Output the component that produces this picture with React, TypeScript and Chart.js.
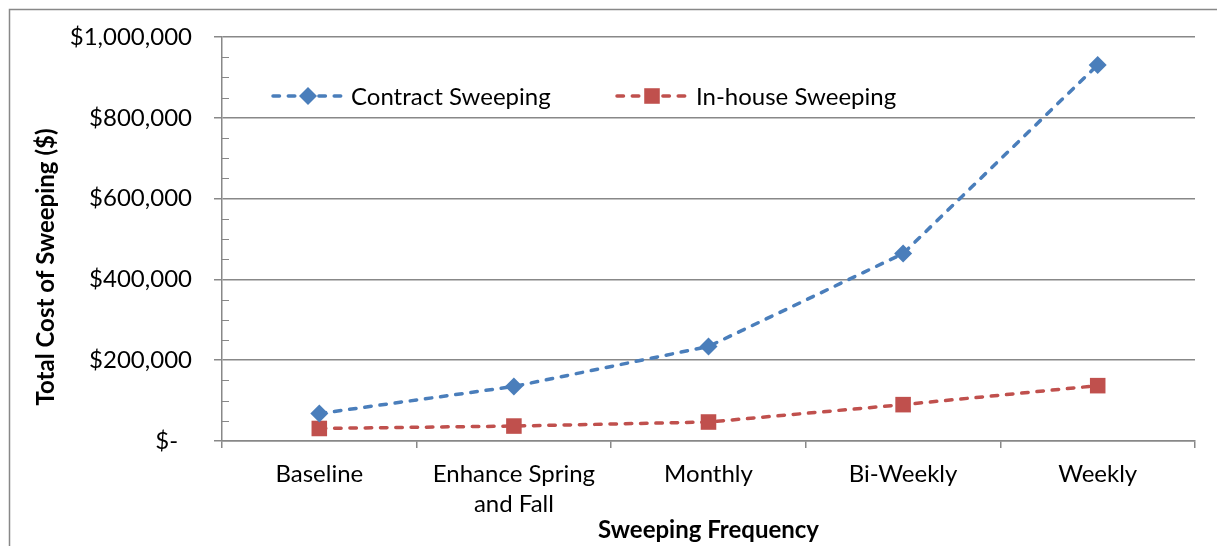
import React, { useEffect, useRef } from "react";
import { Chart, registerables } from "chart.js";

Chart.register(...registerables);

const categories: (string | string[])[] = [
  "Baseline",
  ["Enhance Spring", "and Fall"],
  "Monthly",
  "Bi-Weekly",
  "Weekly",
];
const contractSweeping = [68000, 135000, 234000, 464000, 931000];
const inhouseSweeping = [31000, 37000, 47000, 90000, 137000];
const seriesNames = ["Contract Sweeping", "In-house Sweeping"];
const yTickValues = [0, 200000, 400000, 600000, 800000, 1000000];
const yTitle = "Total Cost of Sweeping ($)";
const xTitle = "Sweeping Frequency";

const FONT = "Lato, 'Open Sans', sans-serif";
const GRID = "#888888";
const BLUE = "#4A7EBB";
const RED = "#C0504D";
const TICK_SIZE = 24;
const TITLE_SIZE = 24;

const decorPlugin = {
  id: "decor",
  beforeDraw(chart: any) {
    const ctx = chart.ctx;
    ctx.save();
    ctx.strokeStyle = GRID;
    ctx.lineWidth = 1.5;
    ctx.beginPath();
    ctx.moveTo(9.5, chart.height + 5);
    ctx.lineTo(9.5, 9.5);
    ctx.lineTo(chart.width + 5, 9.5);
    ctx.stroke();
    ctx.restore();
  },
  afterDraw(chart: any) {
    const ctx = chart.ctx;
    const y = chart.scales.y;
    const area = chart.chartArea;
    ctx.save();
    // minor ticks
    ctx.strokeStyle = GRID;
    ctx.lineWidth = 1;
    for (let v = 0; v <= 1000000; v += 50000) {
      if (v % 200000 === 0) continue;
      const py = Math.round(y.getPixelForValue(v)) + 0.5;
      ctx.beginPath();
      ctx.moveTo(area.left, py);
      ctx.lineTo(area.left + 7, py);
      ctx.stroke();
    }
    // y title
    ctx.fillStyle = "#000";
    ctx.font = `bold ${TITLE_SIZE}px ${FONT}`;
    ctx.textAlign = "center";
    ctx.textBaseline = "middle";
    ctx.translate(46, 267);
    ctx.rotate(-Math.PI / 2);
    ctx.fillText(yTitle, 0, 0);
    ctx.restore();

    // legend
    const items = [
      { x0: 273, x1: 345, mx: 308, tx: 351, ds: chart.data.datasets[0] },
      { x0: 617, x1: 690, mx: 652, tx: 696, ds: chart.data.datasets[1] },
    ];
    const ly = 96;
    items.forEach((it) => {
      ctx.save();
      ctx.strokeStyle = it.ds.borderColor;
      ctx.lineWidth = it.ds.borderWidth;
      ctx.lineCap = "round";
      ctx.setLineDash(it.ds.borderDash);
      ctx.beginPath();
      ctx.moveTo(it.x0, ly);
      ctx.lineTo(it.x1, ly);
      ctx.stroke();
      ctx.setLineDash([]);
      ctx.fillStyle = it.ds.backgroundColor;
      ctx.beginPath();
      if (it.ds.pointStyle === "rectRot") {
        const r = it.ds.pointRadius;
        ctx.moveTo(it.mx, ly - r);
        ctx.lineTo(it.mx + r, ly);
        ctx.lineTo(it.mx, ly + r);
        ctx.lineTo(it.mx - r, ly);
        ctx.closePath();
      } else {
        const h = it.ds.pointRadius * Math.SQRT1_2;
        ctx.rect(it.mx - h, ly - h, 2 * h, 2 * h);
      }
      ctx.fill();
      ctx.fillStyle = "#000";
      ctx.font = `${TICK_SIZE}px ${FONT}`;
      ctx.textAlign = "left";
      ctx.textBaseline = "middle";
      ctx.fillText(it.ds.label, it.tx, ly + 1);
      ctx.restore();
    });
  },
};

export default function App() {
  const ref = useRef<HTMLCanvasElement>(null);
  useEffect(() => {
    if (!ref.current) return;
    const chart = new Chart(ref.current, {
      type: "line",
      data: {
        labels: categories as any,
        datasets: [
          {
            label: seriesNames[0],
            data: contractSweeping,
            borderColor: BLUE,
            backgroundColor: BLUE,
            borderWidth: 3.5,
            borderDash: [6.5, 8.8],
            borderCapStyle: "round",
            pointStyle: "rectRot",
            pointRadius: 9,
            pointBorderWidth: 0,
            tension: 0,
          },
          {
            label: seriesNames[1],
            data: inhouseSweeping,
            borderColor: RED,
            backgroundColor: RED,
            borderWidth: 3.5,
            borderDash: [6.5, 8.8],
            borderCapStyle: "round",
            pointStyle: "rect",
            pointRadius: 11,
            pointBorderWidth: 0,
            tension: 0,
          },
        ] as any,
      },
      options: {
        animation: false,
        responsive: false,
        layout: { padding: { top: 37, right: 22, left: 0, bottom: 0 } },
        plugins: { legend: { display: false }, tooltip: { enabled: false } },
        scales: {
          x: {
            type: "category",
            offset: true,
            grid: {
              offset: true,
              drawOnChartArea: false,
              drawTicks: true,
              tickLength: 7,
              color: GRID,
              lineWidth: 1.5,
            },
            border: { display: true, color: GRID, width: 1.5 },
            ticks: {
              color: "#000",
              font: { family: FONT, size: TICK_SIZE, lineHeight: 1.25 },
              padding: 11,
              maxRotation: 0,
              autoSkip: false,
            },
            title: {
              display: true,
              text: xTitle,
              color: "#000",
              font: { family: FONT, size: TITLE_SIZE, weight: "bold", lineHeight: 1.2 },
              padding: { top: 0, bottom: 1 },
            },
            afterFit(scale: any) {
              scale.height = 105;
            },
          },
          y: {
            min: 0,
            max: 1000000,
            afterBuildTicks(scale: any) {
              scale.ticks = yTickValues.map((v) => ({ value: v }));
            },
            grid: {
              color: GRID,
              lineWidth: 1.5,
              drawTicks: true,
              tickLength: 8,
            },
            border: { display: true, color: GRID, width: 1.5 },
            ticks: {
              color: "#000",
              font: { family: FONT, size: TICK_SIZE },
              padding: 22,
              callback: (v: any) =>
                Number(v) === 0 ? "$-\u2007" : "$" + Number(v).toLocaleString("en-US"),
            },
            afterFit(scale: any) {
              scale.width = 222;
            },
          },
        },
      },
      plugins: [decorPlugin],
    } as any);
    return () => chart.destroy();
  }, []);
  return (
    <div style={{ position: "absolute", left: 0, top: 0, width: 1217, height: 546, background: "#fff" }}>
      <canvas ref={ref} width={1217} height={546} style={{ display: "block" }} />
    </div>
  );
}
